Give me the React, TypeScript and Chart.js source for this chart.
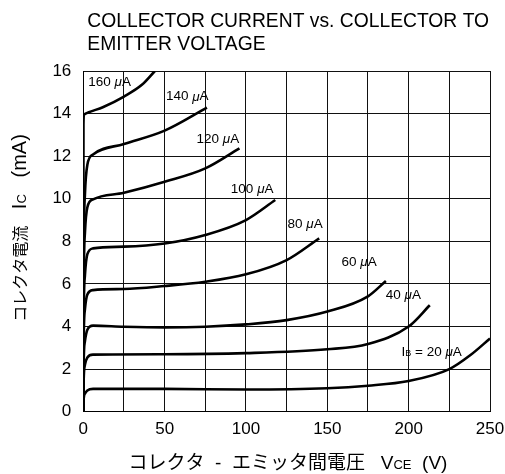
import React, { useEffect, useRef } from 'react';
import { Chart, registerables } from 'chart.js';

Chart.register(...registerables);

// ---- axes ----
const xMin = 0;
const xMax = 250;
const xGridStep = 25;
const xLabelStep = 50;
const yMin = 0;
const yMax = 16;
const yGridStep = 2;

// ---- title / axis titles ----
const titleLines = ['COLLECTOR CURRENT vs. COLLECTOR TO', 'EMITTER VOLTAGE'];
const xTitleJa1 = 'コレクタ';
const xTitleDash = '  -  ';
const xTitleJa2 = 'エミッタ間電圧';
const xTitleSym = 'V';
const xTitleSub = 'CE';
const xTitleUnit = '  (V)';
const yTitleJa = 'コレクタ電流';
const yTitleSym = 'I';
const yTitleSub = 'C';
const yTitleUnit = '(mA)';

// ---- curves: collector-emitter voltage (V) and collector current (mA) ----
const vce20 = [0, 0.2, 1, 2.5, 6, 50, 100, 150, 175, 200, 225, 238, 250];
const ic20 = [0, 0.55, 0.85, 1.0, 1.07, 1.07, 1.04, 1.1, 1.22, 1.44, 2.0, 2.66, 3.44];

const vce40 = [0, 0.2, 1, 2.5, 6, 50, 100, 150, 175, 200, 213];
const ic40 = [0, 1.4, 2.2, 2.55, 2.68, 2.7, 2.75, 2.93, 3.18, 4.0, 5.0];

const vce60 = [0, 0.2, 1, 2.5, 6, 25, 50, 75, 100, 125, 150, 175, 186];
const ic60 = [0, 2.2, 3.3, 3.85, 4.04, 3.99, 3.96, 3.99, 4.1, 4.3, 4.7, 5.42, 6.14];

const vce80 = [0, 0.2, 1, 2.5, 6, 25, 50, 75, 100, 125, 145];
const ic80 = [0, 3.2, 4.8, 5.5, 5.71, 5.76, 5.9, 6.1, 6.45, 7.12, 8.14];

const vce100 = [0, 0.2, 1, 2.5, 6, 25, 50, 75, 100, 118];
const ic100 = [0, 4.2, 6.4, 7.4, 7.67, 7.75, 7.9, 8.3, 9.0, 9.94];

const vce120 = [0, 0.2, 1, 2.5, 6, 25, 50, 75, 96];
const ic120 = [0, 5.5, 8.4, 9.6, 9.97, 10.28, 10.8, 11.43, 12.37];

const vce140 = [0, 0.2, 1, 2.5, 6, 25, 50, 76];
const ic140 = [0, 6.6, 10.2, 11.6, 12.08, 12.57, 13.2, 14.28];

const vce160 = [0, 0.1, 0.4, 3, 12, 25, 36, 44];
const ic160 = [0, 13.5, 13.95, 14.05, 14.3, 14.8, 15.35, 16.0];

// ---- curve labels ----
const labelNums = ['160 ', '140 ', '120 ', '100 ', '80 ', '60 ', '40 ', ' = 20 '];
const labelV = [3.1, 50.8, 69.6, 90.7, 125.5, 158.7, 185.9, 195.6];
const labelI = [15.49, 14.79, 12.79, 10.46, 8.81, 7.01, 5.48, 2.77];

const LAT = '"Liberation Sans", Arial, sans-serif';
const JP = '"Noto Sans CJK JP", "Noto Sans CJK SC", sans-serif';

type Run = { t: string; f: string; dy?: number };

function runsWidth(ctx: CanvasRenderingContext2D, runs: Run[]) {
  let w = 0;
  for (const r of runs) {
    ctx.font = r.f;
    w += ctx.measureText(r.t).width;
  }
  return w;
}

function drawRuns(ctx: CanvasRenderingContext2D, runs: Run[], x: number, y: number) {
  let cx = x;
  for (const r of runs) {
    ctx.font = r.f;
    ctx.fillText(r.t, cx, y + (r.dy || 0));
    cx += ctx.measureText(r.t).width;
  }
}

const textPlugin = {
  id: 'textPlugin',
  beforeDatasetsDraw(chart: any) {
    const ctx: CanvasRenderingContext2D = chart.ctx;
    const xs = chart.scales.x;
    const ys = chart.scales.y;
    ctx.save();
    ctx.fillStyle = '#000';
    ctx.textAlign = 'left';
    ctx.textBaseline = 'middle';
    const lf = `13.5px ${LAT}`;
    const lfi = `italic 13.5px ${LAT}`;
    for (let k = 0; k < labelNums.length; k++) {
      const px = xs.getPixelForValue(labelV[k]);
      const py = ys.getPixelForValue(labelI[k]);
      const runs: Run[] =
        k === labelNums.length - 1
          ? [
              { t: 'I', f: lf },
              { t: 'B', f: `9px ${LAT}`, dy: 1 },
              { t: labelNums[k], f: lf },
              { t: 'μ', f: lfi },
              { t: 'A', f: lf },
            ]
          : [
              { t: labelNums[k], f: lf },
              { t: 'μ', f: lfi },
              { t: 'A', f: lf },
            ];
      drawRuns(ctx, runs, px, py);
    }
    ctx.restore();
  },
  afterDraw(chart: any) {
    const ctx: CanvasRenderingContext2D = chart.ctx;
    const area = chart.chartArea;
    ctx.save();
    ctx.fillStyle = '#000';
    ctx.textAlign = 'left';
    ctx.textBaseline = 'alphabetic';
    // title
    ctx.font = `19.3px ${LAT}`;
    ctx.fillText(titleLines[0], area.left + 4, 27);
    ctx.fillText(titleLines[1], area.left + 4, 49.5);

    // x title
    const xr: Run[] = [
      { t: xTitleJa1, f: `19px ${JP}` },
      { t: xTitleDash, f: `19px ${LAT}` },
      { t: xTitleJa2, f: `19px ${JP}` },
      { t: '   ', f: `19px ${LAT}` },
      { t: xTitleSym, f: `19px ${LAT}` },
      { t: xTitleSub, f: `13px ${LAT}` },
      { t: xTitleUnit, f: `19px ${LAT}` },
    ];
    drawRuns(ctx, xr, 128.5, 469);

    // y title (rotated)
    const yr: Run[] = [
      { t: yTitleJa, f: `16px ${JP}` },
      { t: '   ', f: `20px ${LAT}` },
      { t: yTitleSym, f: `20px ${LAT}` },
      { t: yTitleSub, f: `13px ${LAT}` },
      { t: '   ', f: `20px ${LAT}` },
      { t: yTitleUnit, f: `20px ${LAT}` },
    ];
    const yw = runsWidth(ctx, yr);
    ctx.translate(26, 228);
    ctx.rotate(-Math.PI / 2);
    drawRuns(ctx, yr, -yw / 2, 0);
    ctx.restore();
  },
};

export default function App() {
  const ref = useRef<HTMLCanvasElement | null>(null);

  useEffect(() => {
    document.body.style.margin = '0';
    const canvas = ref.current;
    if (!canvas) return;
    const series = [
      { v: vce20, i: ic20 },
      { v: vce40, i: ic40 },
      { v: vce60, i: ic60 },
      { v: vce80, i: ic80 },
      { v: vce100, i: ic100 },
      { v: vce120, i: ic120 },
      { v: vce140, i: ic140 },
      { v: vce160, i: ic160 },
    ];
    const datasets = series.map((s) => ({
      data: s.v.map((v, k) => ({ x: v, y: s.i[k] })),
      borderColor: '#000',
      borderWidth: 2.6,
      pointRadius: 0,
      pointHoverRadius: 0,
      showLine: true,
      fill: false,
      cubicInterpolationMode: 'monotone' as const,
    }));
    const tickFont = { family: LAT, size: 17 };
    const chart = new Chart(canvas, {
      type: 'scatter',
      data: { datasets },
      options: {
        animation: false,
        responsive: false,
        events: [],
        layout: { padding: { top: 71, right: 15, left: 0, bottom: 0 } },
        plugins: { legend: { display: false }, tooltip: { enabled: false }, title: { display: false } },
        scales: {
          x: {
            type: 'linear',
            min: xMin,
            max: xMax,
            afterFit: (s: any) => {
              s.height = 62.3;
              s.paddingLeft = 0;
              s.paddingRight = 0;
            },
            ticks: {
              stepSize: xGridStep,
              autoSkip: false,
              maxRotation: 0,
              padding: 7,
              color: '#000',
              font: tickFont,
              callback: (v: any) => (Number(v) % xLabelStep === 0 ? String(v) : ''),
            },
            grid: { color: '#111', lineWidth: 1, drawTicks: false },
            border: { color: '#000', width: 1 },
          },
          y: {
            type: 'linear',
            min: yMin,
            max: yMax,
            afterFit: (s: any) => {
              s.width = 83.3;
              s.paddingTop = 0;
              s.paddingBottom = 0;
            },
            ticks: {
              stepSize: yGridStep,
              padding: 12,
              color: '#000',
              font: tickFont,
            },
            grid: { color: '#111', lineWidth: 1, drawTicks: false },
            border: { color: '#000', width: 1 },
          },
        },
      },
      plugins: [textPlugin],
    });
    return () => chart.destroy();
  }, []);

  return (
    <div style={{ width: 505, height: 474, background: '#fff' }}>
      <canvas ref={ref} width={505} height={474} style={{ display: 'block' }} />
    </div>
  );
}
